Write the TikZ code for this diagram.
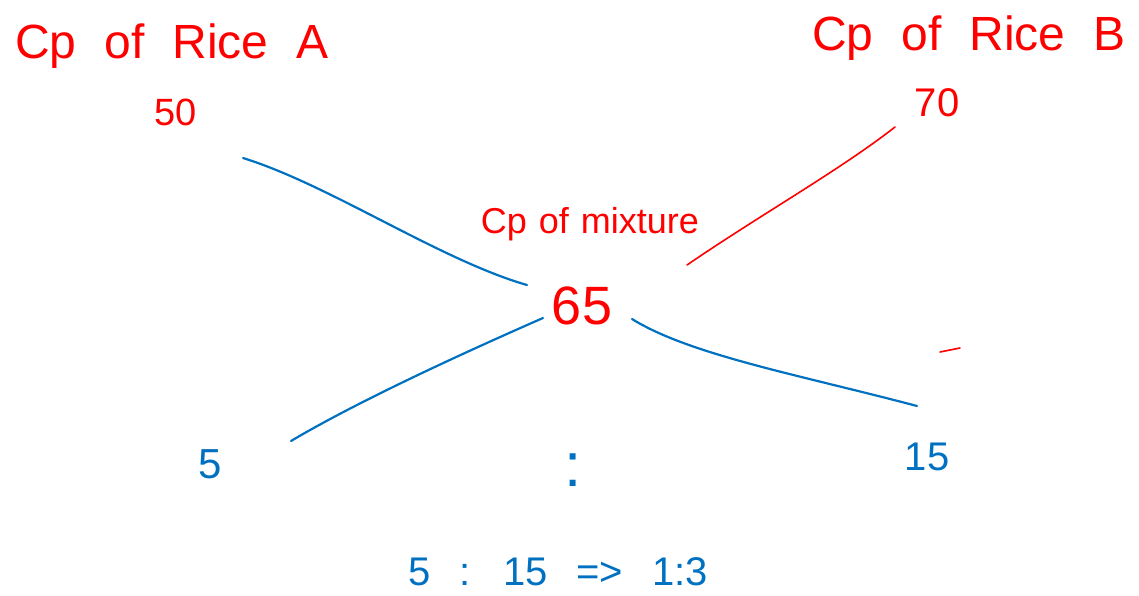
\documentclass[tikz,border=0pt]{standalone}
\usepackage{fontspec}
\setmainfont{Liberation Sans}
\usepackage{tikz}
\usetikzlibrary{calc}
\usepackage{color}
\definecolor{penred}{RGB}{255,0,0}
\definecolor{penblue}{RGB}{0,112,192}
\newcommand{\handsize}[2]{\fontsize{#1}{#1}\selectfont\spaceskip=#2pt\relax}

\begin{document}
\begin{tikzpicture}[x=1pt,y=-1pt,
    redtxt/.style={text=penred,inner sep=0pt},
    bluetxt/.style={text=penblue,inner sep=0pt},
    redline/.style={draw=penred,line width=1.6pt,line cap=round},
    blueline/.style={draw=penblue,line width=2.2pt,line cap=round}]
      \useasboundingbox (0,0) rectangle (1139,595);

      % headings
      \node[redtxt,font=\handsize{48}{28},anchor=base] (headA) at (172,58) {Cp of Rice A};
      \node[redtxt,font=\handsize{48}{28},anchor=base] (headB) at (969,50) {Cp of Rice B};
      \node[redtxt,font=\handsize{36}{12},anchor=base] (headM) at (590,233) {Cp of mixture};

      % prices
      \node[redtxt,font=\handsize{38}{10},anchor=base] (pA) at (176,125) {50};
      \node[redtxt,font=\handsize{40}{10},anchor=base] (pB) at (937,116) {70};
      \node[redtxt,font=\handsize{54}{10},anchor=base] (pM) at (582,324) {65};

      % differences
      \node[bluetxt,font=\handsize{42}{10},anchor=base] (dA) at (210,478) {5};
      \node[bluetxt,font=\handsize{40}{10},anchor=base] (dB) at (927,470) {15};
      \node[bluetxt,font=\handsize{62}{10},anchor=base] (sep) at (573,486) {:};
      \node[bluetxt,font=\handsize{40}{29},anchor=base] (ratio) at (558,585) {5 : 15 => 1:3};

      % line ends
      \coordinate (aIn) at (243,158); \coordinate (aOut) at (527,285);
      \coordinate (bIn) at (895,127); \coordinate (bOut) at (687,265);
      \coordinate (cIn) at (543,318); \coordinate (cOut) at (291,441);
      \coordinate (dIn) at (632,319); \coordinate (dOut) at (917,406);
      \coordinate (tickL) at (940,352); \coordinate (tickR) at (960,348);

      % cross lines
      \draw[blueline] (aIn) .. controls (330,185) and (440,260) .. (aOut);
      \draw[redline] (bIn) .. controls (840,170) and (760,215) .. (bOut);
      \draw[blueline] (cIn) .. controls (470,350) and (360,400) .. (cOut);
      \draw[blueline] (dIn) .. controls (690,355) and (800,375) .. (dOut);
      \draw[redline] (tickL) -- (tickR);
    \end{tikzpicture}
\end{document}
